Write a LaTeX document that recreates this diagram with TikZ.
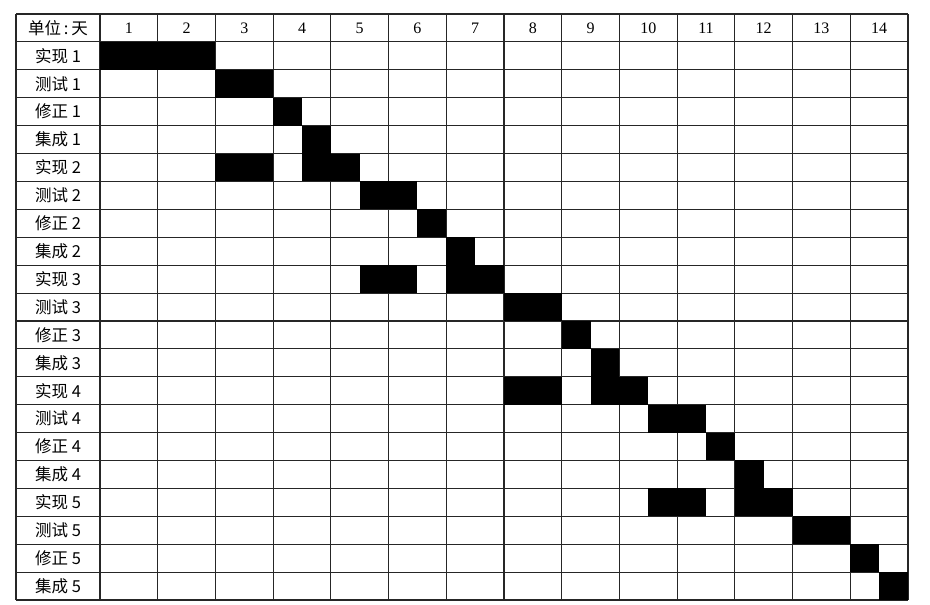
\documentclass[tikz,border=0pt]{standalone}
\usepackage{fontspec}
\setmainfont{Liberation Serif}
\newfontfamily\cjk{Noto Sans CJK SC}

\begin{document}
\begin{tikzpicture}[x=1pt,y=-1pt,
  gridline/.style={line width=1.1pt,black!85},
  taskbar/.style={fill=black},
  rowlabel/.style={inner sep=0pt,font=\cjk\fontsize{16.5}{18}\selectfont},
  daylabel/.style={inner sep=0pt,font=\fontsize{16}{18}\selectfont}]
\def\cw{57.714}
\def\rh{27.905}
\useasboundingbox (0,0) rectangle (930,605);
\fill[white] (0,0) rectangle (930,605);
% grid
\foreach \i in {0,...,21}
  \draw[gridline] (16,14+\i*\rh) -- (908,14+\i*\rh);
\draw[gridline] (16,14) -- (16,600);
\foreach \j in {0,...,14}
  \draw[gridline] (100+\j*\cw,14) -- (100+\j*\cw,600);
% bars, in half days
\foreach \r/\a/\b in {1/0/4, 2/4/6, 3/6/7, 4/7/8, 5/4/6, 5/7/9,
                      6/9/11, 7/11/12, 8/12/13, 9/9/11, 9/12/14,
                      10/14/16, 11/16/17, 12/17/18, 13/14/16, 13/17/19,
                      14/19/21, 15/21/22, 16/22/23, 17/19/21, 17/22/24,
                      18/24/26, 19/26/27, 20/27/28}
  \fill[taskbar] (100+\a*\cw/2,14+\r*\rh) rectangle (100+\b*\cw/2,14+\r*\rh+\rh);
% header
\node[rowlabel] (unit) at (58,14+\rh/2) {单位\,:\,天};
\foreach \j in {1,...,14}
  \node[daylabel] (day-\j) at (100+\j*\cw-\cw/2,14+\rh/2) {\j};
% tasks
\foreach \k in {1,...,5}
  \foreach \t [count=\s] in {实现,测试,修正,集成}{
    \pgfmathtruncatemacro{\r}{(\k-1)*4+\s}
    \node[rowlabel] (task-\r) at (58,14+\r*\rh+\rh/2) {\t\ \k};
  }
\end{tikzpicture}
\end{document}
